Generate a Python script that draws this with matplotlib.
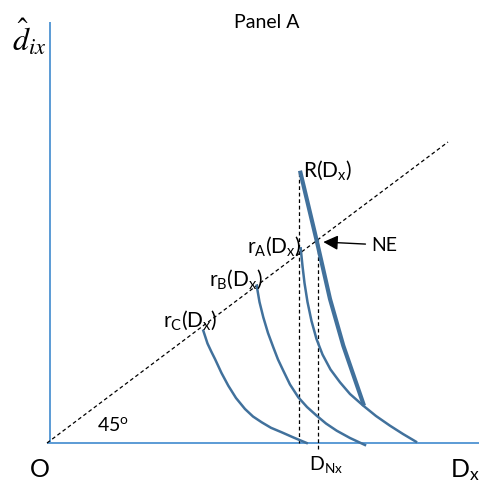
import matplotlib.pyplot as plt

plt.rcParams['font.family'] = ['Lato', 'DejaVu Sans']
plt.rcParams['mathtext.fontset'] = 'custom'
plt.rcParams['mathtext.rm'] = 'Lato'
plt.rcParams['mathtext.it'] = 'Lato:italic'

# curve points (x = D_x, y = d_ix, arbitrary units)
R_x = [253, 269.7, 283, 296.3, 317]
R_y = [272.3, 202.3, 144, 97.3, 37.3]

rA_x = [253.7, 255.5, 257.5, 260.5, 264.5, 269.5, 275.5, 283.5, 293, 303, 316.3, 329, 343, 356, 369]
rA_y = [194.7, 177, 160, 141, 122, 104, 88.5, 73.5, 60.7, 49, 37.3, 27, 17.3, 9, 1.3]

rB_x = [209.7, 212.5, 216.3, 221, 226.3, 231, 236.3, 243, 251.3, 260, 269.7, 279, 289.7, 303, 318]
rB_y = [157.3, 141, 125.7, 110, 95.7, 83.5, 72.3, 58.5, 45.7, 36, 27.3, 19.5, 12.3, 5, -2]

rC_x = [156.3, 160.5, 164.5, 168, 174.5, 181.3, 189, 198, 206, 214.7, 224, 234.7, 246.5, 259.7]
rC_y = [112.3, 99.5, 91, 84, 70, 57.3, 45, 34, 26.5, 20.7, 15.2, 10.7, 5.5, 0]

diag_x = [0, 401]
diag_y = [0, 301]

D_R = 252      # left dashed drop line (top of R)
D_NE = 271.3   # D_Nx, Nash equilibrium
NE_y = 203.5

line_col = '#41719C'
axis_col = '#5B9BD5'

fig = plt.figure(figsize=(4.79, 4.85), dpi=100)
ax = fig.add_axes([0, 0, 1, 1])
ax.set_xlim(-47, 432)
ax.set_ylim(-41, 444)
ax.axis('off')

# axes
ax.plot([2.5, 2.5], [0, 421], color=axis_col, lw=1.4, solid_capstyle='butt')
ax.plot([0, 432], [0, 0], color=axis_col, lw=1.4, solid_capstyle='butt')

# 45 degree line and drop lines
ax.plot(diag_x, diag_y, color='black', lw=0.9, dashes=(3, 2.2))
ax.plot([D_R, D_R], [0, R_y[0]], color='black', lw=0.9, dashes=(3, 2.2))
ax.plot([D_NE, D_NE], [-6, NE_y], color='black', lw=0.9, dashes=(3, 2.2))

# curves
ax.plot(R_x, R_y, color=line_col, lw=3, solid_capstyle='butt')
ax.plot(rA_x, rA_y, color=line_col, lw=1.8)
ax.plot(rB_x, rB_y, color=line_col, lw=1.8)
ax.plot(rC_x, rC_y, color=line_col, lw=1.8)

# labels
ax.text(220, 422, 'Panel A', fontsize=14, ha='center', va='center')
ax.text(-35, 407, r'$\hat{d}_{ix}$', fontsize=23, ha='left', va='center',
        math_fontfamily='stix')
ax.text(256, 274, r'R(D$_\mathrm{x}$)', fontsize=15, ha='left', va='center')
ax.text(200, 198, r'r$_\mathrm{A}$(D$_\mathrm{x}$)', fontsize=15, ha='left', va='center')
ax.text(162, 165, r'r$_\mathrm{B}$(D$_\mathrm{x}$)', fontsize=15, ha='left', va='center')
ax.text(116, 124, r'r$_\mathrm{C}$(D$_\mathrm{x}$)', fontsize=15, ha='left', va='center')
ax.annotate('NE', xy=(D_NE + 5, NE_y - 2.5), xytext=(324, 198),
            fontsize=14, ha='left', va='center',
            arrowprops=dict(arrowstyle='-|>', color='black', lw=1,
                            mutation_scale=22, shrinkA=2, shrinkB=0))
ax.text(50, 19, r'45$^\mathrm{o}$', fontsize=14, ha='left', va='center')
ax.text(-17, -26, 'O', fontsize=18, ha='left', va='center')
ax.text(262, -21, r'D$_\mathrm{Nx}$', fontsize=14, ha='left', va='center')
ax.text(403, -26, r'D$_\mathrm{x}$', fontsize=18, ha='left', va='center')

fig.savefig('out.png', dpi=100)
